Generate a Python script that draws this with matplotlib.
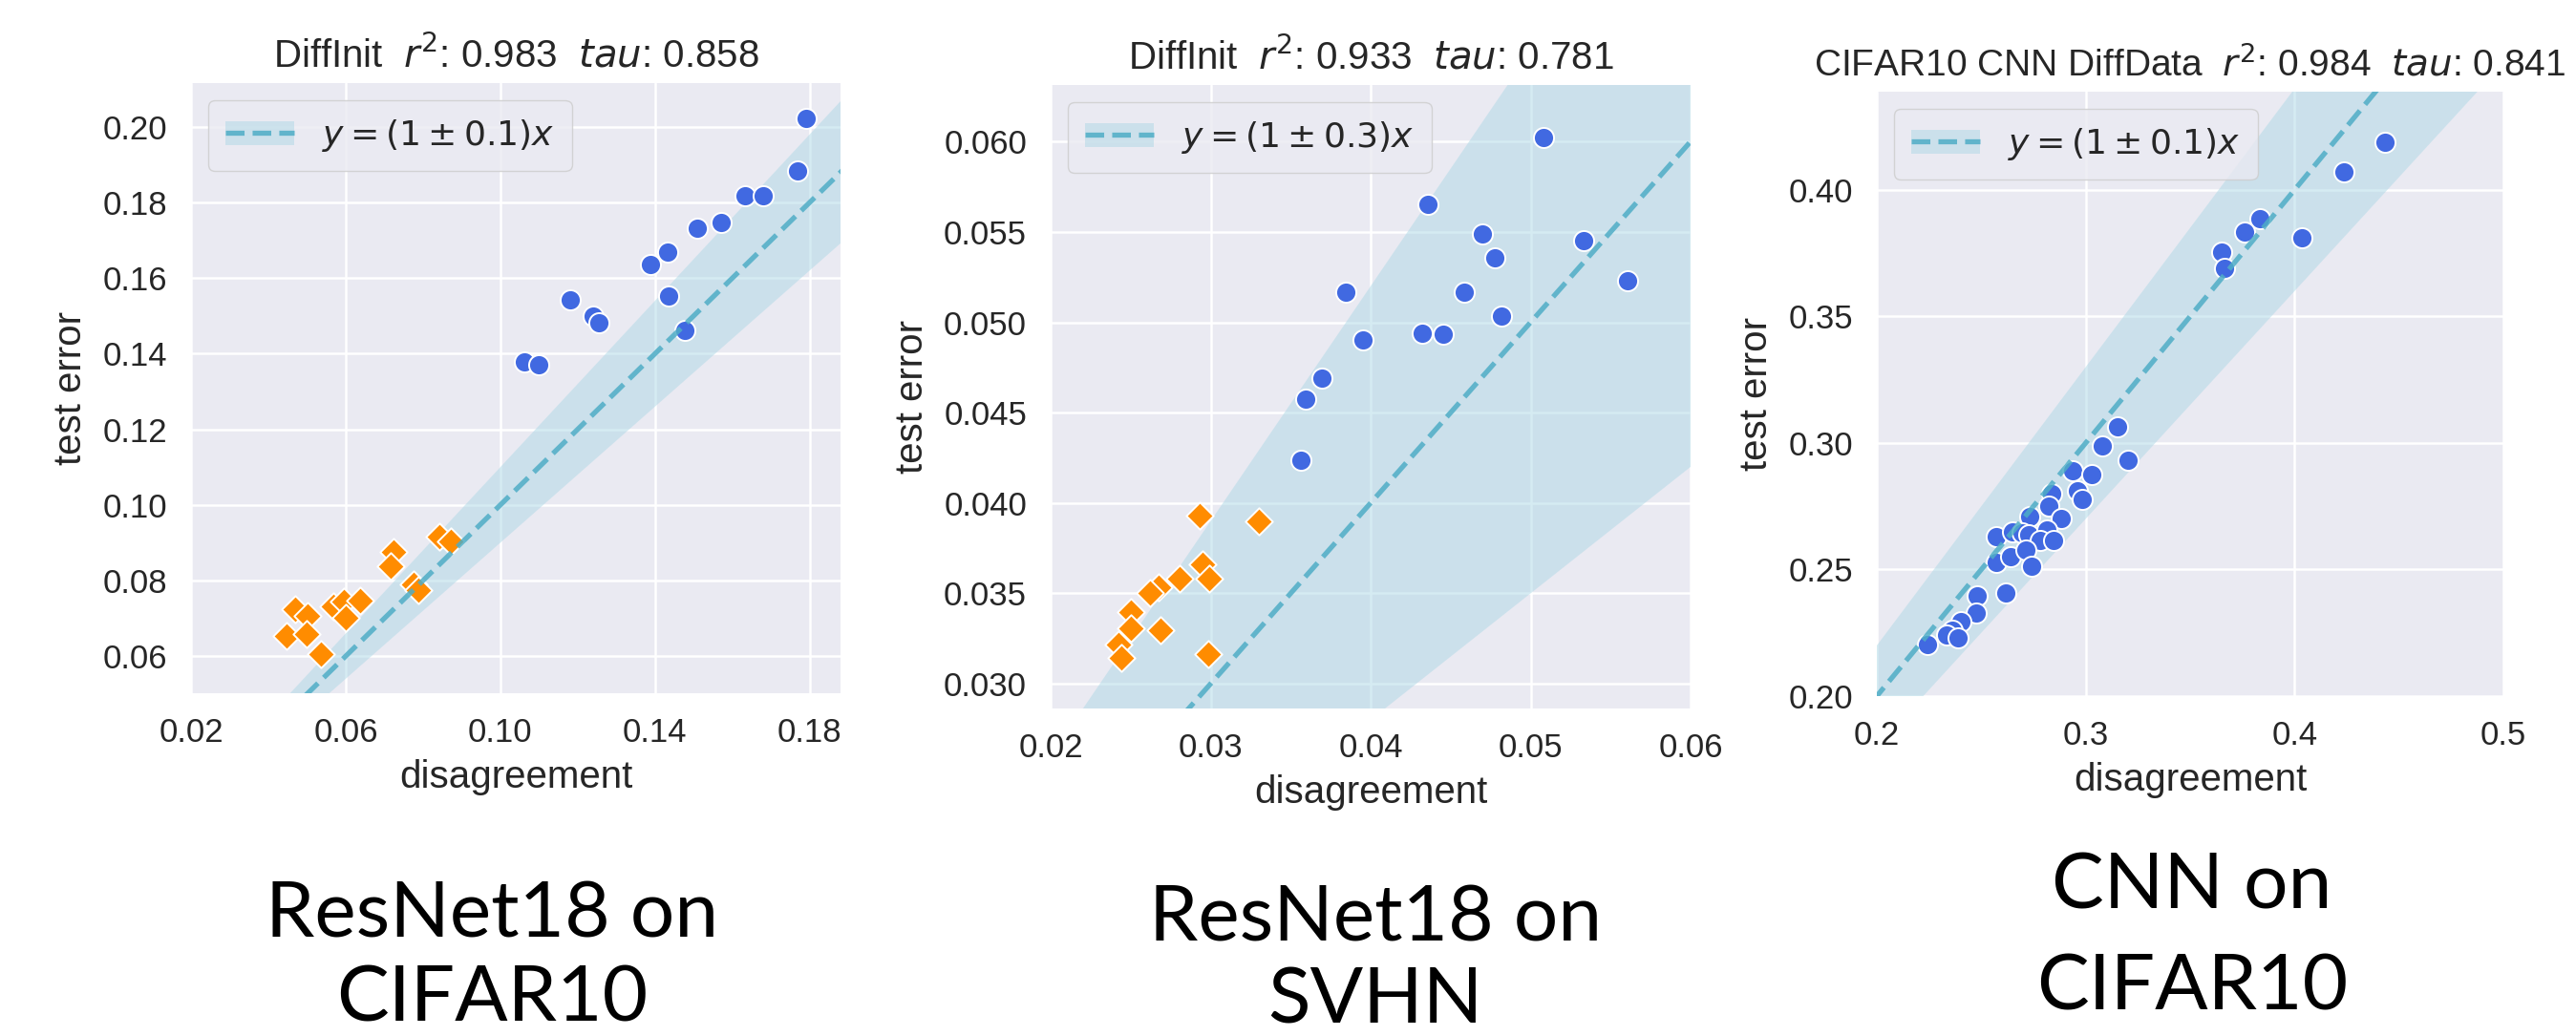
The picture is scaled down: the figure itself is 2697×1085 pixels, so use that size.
import matplotlib
matplotlib.use("Agg")
import matplotlib.pyplot as plt
import seaborn as sns
import numpy as np
from matplotlib.patches import Patch
from matplotlib.lines import Line2D

# ---------------- data ----------------
p1_blue_x = [0.1792, 0.1768, 0.1633, 0.1679, 0.1571, 0.1510, 0.1432, 0.1388, 0.1435, 0.1478, 0.1182, 0.1241, 0.1255, 0.1063, 0.1099]
p1_blue_y = [0.2022, 0.1884, 0.1817, 0.1817, 0.1747, 0.1731, 0.1670, 0.1637, 0.1552, 0.1462, 0.1542, 0.1499, 0.1483, 0.1378, 0.1371]
p1_orange_x = [0.0842, 0.0872, 0.0724, 0.0717, 0.0775, 0.0788, 0.0470, 0.0502, 0.0569, 0.0595, 0.0638, 0.0601, 0.0448, 0.0498, 0.0537]
p1_orange_y = [0.0917, 0.0904, 0.0876, 0.0838, 0.0790, 0.0776, 0.0725, 0.0707, 0.0733, 0.0745, 0.0748, 0.0702, 0.0654, 0.0659, 0.0606]

p2_blue_x = [0.05079, 0.04356, 0.04696, 0.05334, 0.04775, 0.05607, 0.03842, 0.04587, 0.04818, 0.04324, 0.04454, 0.03954, 0.03698, 0.03595, 0.03565]
p2_blue_y = [0.06024, 0.05652, 0.05489, 0.05453, 0.05355, 0.05228, 0.05169, 0.05164, 0.05036, 0.04938, 0.04932, 0.04902, 0.04689, 0.04574, 0.04236]
p2_orange_x = [0.02933, 0.03299, 0.02947, 0.02992, 0.02804, 0.02676, 0.02621, 0.02502, 0.02502, 0.02684, 0.02423, 0.02439, 0.02986]
p2_orange_y = [0.03930, 0.03900, 0.03662, 0.03584, 0.03579, 0.03535, 0.03500, 0.03395, 0.03307, 0.03298, 0.03219, 0.03141, 0.03163]

p3_blue_x = [0.4431, 0.4237, 0.3835, 0.3759, 0.4033, 0.3652, 0.3665,
             0.3153, 0.3077, 0.3203, 0.2939, 0.3031, 0.2959, 0.2985, 0.2836, 0.2821, 0.2882,
             0.2733, 0.2572, 0.2648, 0.2694, 0.2725, 0.2812, 0.2781, 0.2847, 0.2572, 0.2638,
             0.2714, 0.2740, 0.2618, 0.2480, 0.2476, 0.2403, 0.2363, 0.2336, 0.2389, 0.2242]
p3_blue_y = [0.4188, 0.4071, 0.3888, 0.3832, 0.3810, 0.3756, 0.3691,
             0.3063, 0.2987, 0.2930, 0.2892, 0.2874, 0.2810, 0.2779, 0.2801, 0.2751, 0.2703,
             0.2709, 0.2629, 0.2650, 0.2646, 0.2639, 0.2658, 0.2614, 0.2614, 0.2528, 0.2551,
             0.2579, 0.2513, 0.2409, 0.2396, 0.2329, 0.2296, 0.2259, 0.2242, 0.2231, 0.2203]

titles = ["DiffInit  $r^2$: 0.983  $tau$: 0.858",
          "DiffInit  $r^2$: 0.933  $tau$: 0.781",
          "CIFAR10 CNN DiffData  $r^2$: 0.984  $tau$: 0.841"]
band_widths = [0.1, 0.3, 0.1]
legend_labels = [r"$y = (1 \pm 0.1)x$", r"$y = (1 \pm 0.3)x$", r"$y = (1 \pm 0.1)x$"]
xlims = [(0.0205, 0.188), (0.02, 0.06), (0.2, 0.5)]
ylims = [(0.0502, 0.2116), (0.02863, 0.06313), (0.2, 0.4388)]
xticks = [[0.02, 0.06, 0.10, 0.14, 0.18], [0.02, 0.03, 0.04, 0.05, 0.06], [0.2, 0.3, 0.4, 0.5]]
xticklabels = [["0.02", "0.06", "0.10", "0.14", "0.18"], ["0.02", "0.03", "0.04", "0.05", "0.06"], ["0.2", "0.3", "0.4", "0.5"]]
yticks = [[0.06, 0.08, 0.10, 0.12, 0.14, 0.16, 0.18, 0.20],
          [0.030, 0.035, 0.040, 0.045, 0.050, 0.055, 0.060],
          [0.20, 0.25, 0.30, 0.35, 0.40]]
yticklabels = [["0.06", "0.08", "0.10", "0.12", "0.14", "0.16", "0.18", "0.20"],
               ["0.030", "0.035", "0.040", "0.045", "0.050", "0.055", "0.060"],
               ["0.20", "0.25", "0.30", "0.35", "0.40"]]
captions = [("ResNet18 on", "CIFAR10"), ("ResNet18 on", "SVHN"), ("CNN on", "CIFAR10")]

# ---------------- style ----------------
sns.set_theme(style="darkgrid")
plt.rcParams['font.family'] = ['Liberation Sans', 'DejaVu Sans']
plt.rcParams['mathtext.fontset'] = 'dejavusans'

BLUE = "#4169e1"
ORANGE = "#ff8c00"
BAND = "lightblue"
LINE = "#4fadc6"
TXT = "#262626"

fig = plt.figure(figsize=(26.97, 10.85), dpi=100)
W, H = 2697, 1085
boxes = [(200, 880, 87, 726), (1100, 1770, 89, 742), (1965, 2621, 96, 729)]
title_sizes = [29, 29, 28]

for i in range(3):
    l, r, t, b = boxes[i]
    ax = fig.add_axes([l / W, 1 - b / H, (r - l) / W, (b - t) / H])
    ax.set_facecolor("#eaeaf2")
    ax.grid(True, color="white", lw=1.8)
    for s in ax.spines.values():
        s.set_visible(False)
    xs = np.array([xlims[i][0] - 0.1, xlims[i][1] + 0.1])
    k = band_widths[i]
    ax.fill_between(xs, (1 - k) * xs, (1 + k) * xs, color=BAND, alpha=0.5, lw=0, zorder=1)
    ax.plot(xs, xs, ls="--", color=LINE, lw=3.8, alpha=0.85, zorder=3)
    if i == 0:
        ax.scatter(p1_blue_x, p1_blue_y, s=230, color=BLUE, edgecolor="white", lw=1.4, zorder=2)
        ax.scatter(p1_orange_x, p1_orange_y, s=210, marker="D", color=ORANGE, edgecolor="white", lw=1.4, zorder=2)
    elif i == 1:
        ax.scatter(p2_blue_x, p2_blue_y, s=230, color=BLUE, edgecolor="white", lw=1.4, zorder=2)
        ax.scatter(p2_orange_x, p2_orange_y, s=210, marker="D", color=ORANGE, edgecolor="white", lw=1.4, zorder=2)
    else:
        ax.scatter(p3_blue_x, p3_blue_y, s=230, color=BLUE, edgecolor="white", lw=1.4, zorder=2)
    ax.set_xlim(*xlims[i])
    ax.set_ylim(*ylims[i])
    ax.set_xticks(xticks[i])
    ax.set_xticklabels(xticklabels[i])
    ax.set_yticks(yticks[i])
    ax.set_yticklabels(yticklabels[i])
    ax.tick_params(axis="both", length=0, pad=18, labelsize=25, labelcolor=TXT)
    ax.set_xlabel("disagreement", fontsize=29, color=TXT, labelpad=8)
    ax.set_ylabel("test error", fontsize=29, color=TXT, labelpad=10)
    ax.set_title(titles[i], fontsize=title_sizes[i], color=TXT, pad=12)
    h = (Patch(facecolor=BAND, alpha=0.5, lw=0), Line2D([], [], ls="--", color=LINE, lw=3.8, alpha=0.85))
    leg = ax.legend([h], [legend_labels[i]], loc="upper left", fontsize=26,
                    frameon=True, framealpha=0.8, facecolor="#eaeaf2", edgecolor="0.8",
                    handlelength=2.0, borderpad=0.5)
    for txt in leg.get_texts():
        txt.set_color(TXT)

# captions
cap_x = [515, 1440, 2295]
cap_y1 = [982, 985, 952]
cap_y2 = [1070, 1072, 1058]
for i in range(3):
    fig.text(cap_x[i] / W, 1 - cap_y1[i] / H, captions[i][0], ha="center", va="baseline",
             fontsize=59, family=["Lato", "DejaVu Sans"], color="black")
    fig.text(cap_x[i] / W, 1 - cap_y2[i] / H, captions[i][1], ha="center", va="baseline",
             fontsize=59, family=["Lato", "DejaVu Sans"], color="black")

fig.savefig("out.png", dpi=100, facecolor="white")
